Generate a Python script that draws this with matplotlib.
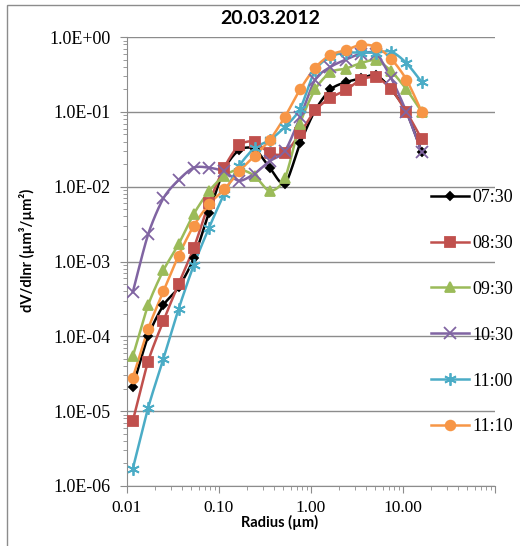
import numpy as np
import matplotlib.pyplot as plt
from matplotlib.patches import Rectangle

# radius bins (um)
radius = [0.0116, 0.0170, 0.0249, 0.0364, 0.0532, 0.0778, 0.114, 0.166, 0.244, 0.356,
          0.521, 0.762, 1.11, 1.63, 2.39, 3.49, 5.11, 7.47, 10.9, 16.0]

v_0730 = [2.1e-5, 1.0e-4, 2.6e-4, 4.5e-4, 1.1e-3, 4.5e-3, 1.7e-2, 3.1e-2, 3.2e-2, 1.8e-2,
          1.1e-2, 3.8e-2, 1.05e-1, 2.0e-1, 2.5e-1, 2.8e-1, 3.1e-1, 2.0e-1, 1.0e-1, 2.9e-2]
v_0830 = [7.4e-6, 4.6e-5, 1.6e-4, 5.0e-4, 1.5e-3, 6.0e-3, 1.8e-2, 3.6e-2, 4.0e-2, 2.8e-2,
          2.8e-2, 5.2e-2, 1.05e-1, 1.55e-1, 1.95e-1, 2.7e-1, 2.9e-1, 2.0e-1, 1.0e-1, 4.3e-2]
v_0930 = [5.4e-5, 2.6e-4, 7.6e-4, 1.7e-3, 4.3e-3, 8.7e-3, 1.4e-2, 1.7e-2, 1.4e-2, 8.8e-3,
          1.3e-2, 7.0e-2, 2.0e-1, 3.4e-1, 3.8e-1, 4.5e-1, 4.9e-1, 3.5e-1, 2.0e-1, 1.0e-1]
v_1030 = [3.9e-4, 2.3e-3, 7.0e-3, 1.23e-2, 1.8e-2, 1.8e-2, 1.6e-2, 1.2e-2, 1.5e-2, 2.2e-2,
          3.0e-2, 8.5e-2, 2.7e-1, 4.0e-1, 5.0e-1, 6.0e-1, 6.0e-1, 2.8e-1, 1.0e-1, 2.9e-2]
v_1100 = [1.7e-6, 1.1e-5, 5.0e-5, 2.3e-4, 8.9e-4, 2.8e-3, 8.0e-3, 1.9e-2, 3.3e-2, 4.2e-2,
          6.3e-2, 1.1e-1, 3.6e-1, 5.5e-1, 6.2e-1, 6.2e-1, 6.2e-1, 6.4e-1, 4.5e-1, 2.5e-1]
v_1110 = [2.8e-5, 1.25e-4, 4.0e-4, 1.2e-3, 3.0e-3, 5.8e-3, 9.2e-3, 1.6e-2, 2.6e-2, 4.2e-2,
          8.6e-2, 2.0e-1, 3.9e-1, 5.8e-1, 6.7e-1, 7.9e-1, 7.4e-1, 5.1e-1, 2.7e-1, 1.0e-1]

labels = ['07:30', '08:30', '09:30', '10:30', '11:00', '11:10']
series = [v_0730, v_0830, v_0930, v_1030, v_1100, v_1110]
colors = ['#000000', '#C0504D', '#9BBB59', '#8064A2', '#4BACC6', '#F79646']
markers = ['D', 's', '^', 'x', (6, 2, 0), 'o']
msizes = [4, 7, 7, 8, 9, 7]


def _smooth(x, y, n=12):
    # Excel-like smoothed line (Catmull-Rom in log-log space)
    lx, ly = np.log10(x), np.log10(y)
    px = np.concatenate([[lx[0]], lx, [lx[-1]]])
    py = np.concatenate([[ly[0]], ly, [ly[-1]]])
    ox, oy = [], []
    t = np.linspace(0, 1, n, endpoint=False)
    for i in range(1, len(px) - 2):
        for p, o in ((px, ox), (py, oy)):
            p0, p1, p2, p3 = p[i - 1], p[i], p[i + 1], p[i + 2]
            m1 = (p2 - p0) / 2 * 0.8
            m2 = (p3 - p1) / 2 * 0.8
            h00 = 2 * t**3 - 3 * t**2 + 1
            h10 = t**3 - 2 * t**2 + t
            h01 = -2 * t**3 + 3 * t**2
            h11 = t**3 - t**2
            o.extend(h00 * p1 + h10 * m1 + h01 * p2 + h11 * m2)
    ox.append(lx[-1])
    oy.append(ly[-1])
    return 10 ** np.array(ox), 10 ** np.array(oy)


fig = plt.figure(figsize=(5.2, 5.46), dpi=100)
ax = fig.add_axes([0.244, 0.110, 0.708, 0.822])

handles = []
for lab, vals, c, m, ms in zip(labels, series, colors, markers, msizes):
    sx, sy = _smooth(np.array(radius), np.array(vals))
    ax.plot(sx, sy, color=c, lw=1.8, zorder=3)
    ax.plot(radius, vals, ls='none', marker=m, ms=ms, color=c,
            mec=c, mew=1.3, zorder=4)
    h, = ax.plot([], [], color=c, lw=1.8, marker=m, ms=ms, mec=c, mew=1.3)
    handles.append(h)

ax.set_xscale('log')
ax.set_yscale('log')
ax.set_xlim(0.01, 100)
ax.set_ylim(1e-6, 1)
ax.set_xticks([0.01, 0.1, 1, 10, 100])
ax.set_xticklabels(['0.01', '0.10', '1.00', '10.00', ''])
yt = [1e-6, 1e-5, 1e-4, 1e-3, 1e-2, 1e-1, 1]
ax.set_yticks(yt)
ax.set_yticklabels([f'{v:.1E}' for v in yt])
ax.yaxis.grid(True, which='major', color='#8c8c8c', lw=1)
ax.set_axisbelow(True)
for s in ('top', 'right'):
    ax.spines[s].set_visible(False)
for s in ('left', 'bottom'):
    ax.spines[s].set_color('#8c8c8c')
ax.tick_params(axis='both', which='both', colors='#8c8c8c', labelcolor='black',
               direction='out')
ax.tick_params(axis='both', which='major', length=5, labelsize=12.5)
ax.tick_params(axis='y', which='major', labelsize=13, pad=7)
ax.tick_params(axis='both', which='minor', length=3)
ax.tick_params(axis='x', which='major', pad=5)
for t in ax.get_xticklabels() + ax.get_yticklabels():
    t.set_family('Liberation Serif')

fig.text(0.538, 0.043, 'Radius (µm)', fontsize=10.5, fontweight='bold',
         family='Lato', ha='center', va='center')
fig.text(0.052, 0.542, 'dV/dlnr (µm³/µm²)', fontsize=10.5, fontweight='bold',
         family='Lato', ha='center', va='center', rotation=90)
fig.text(0.519, 0.966, '20.03.2012', fontsize=14, fontweight='bold',
         family='Lato', ha='center', va='center')

fig.legend(handles, labels, loc='upper left', bbox_to_anchor=(0.815, 0.667),
           frameon=False, prop={'family': 'Liberation Serif', 'size': 13},
           labelspacing=1.6, handlelength=2.1, handletextpad=0.2, borderaxespad=0)

# chart-area border (right/bottom edges fall at the image edge)
fig.patches.append(Rectangle((0.014, -0.02), 1.0, 1.01, transform=fig.transFigure,
                             fill=False, edgecolor='#8c8c8c', lw=1))

plt.savefig('out.png', dpi=100)
